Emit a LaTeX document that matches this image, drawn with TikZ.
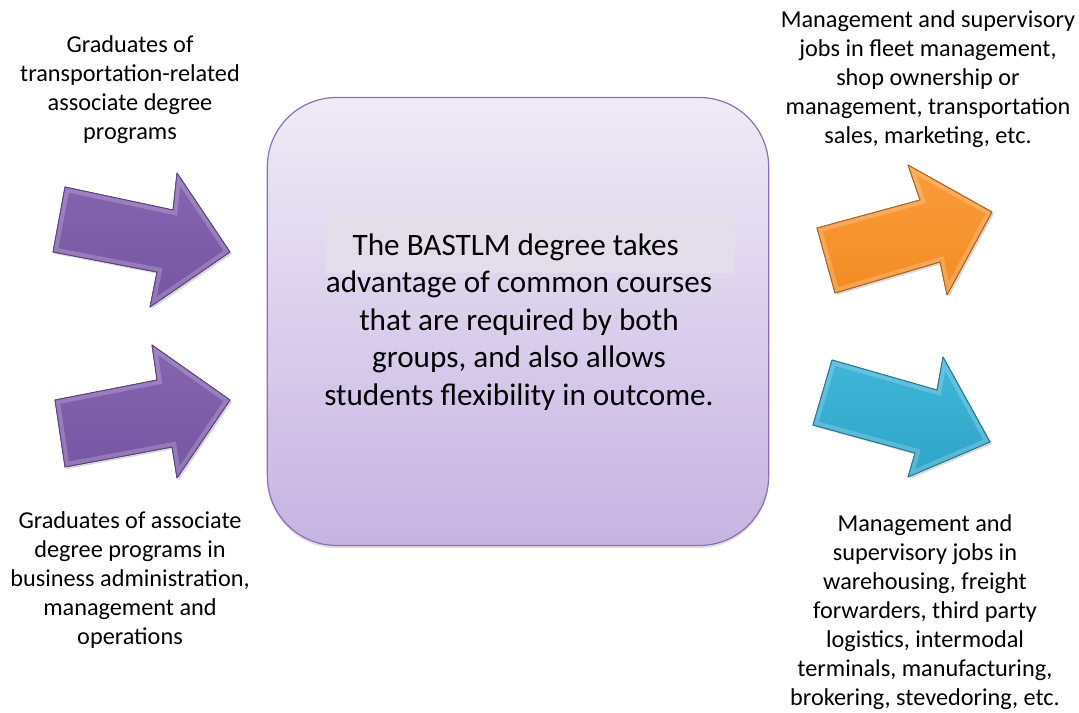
\documentclass[tikz,border=0pt]{standalone}
\usepackage{fontspec}
\setmainfont{Carlito}
\usetikzlibrary{shadows}
\definecolor{boxtop}{HTML}{EFEBF6}
\definecolor{boxbot}{HTML}{C6B3E2}
\definecolor{boxline}{HTML}{8A70B2}
\definecolor{hilite}{HTML}{E4DEEA}
\definecolor{purpA}{HTML}{8565B0}
\definecolor{purpB}{HTML}{7656A2}
\definecolor{purpE}{HTML}{5A4185}
\definecolor{orA}{HTML}{FA9C3C}
\definecolor{orB}{HTML}{F28C22}
\definecolor{orE}{HTML}{B0621A}
\definecolor{blA}{HTML}{40B6D8}
\definecolor{blB}{HTML}{2EA4C8}
\definecolor{blE}{HTML}{1E7A96}
\tikzset{
  sidetext/.style={align=center, font=\fontsize{18.2}{21.75}\selectfont, inner sep=0pt},
  maintext/.style={align=center, font=\fontsize{23.4}{28.1}\selectfont, inner sep=0pt},
  blockarrow/.style n args={3}{top color=#1, bottom color=#2, draw=#3, line width=0.6pt, line join=round,
     drop shadow={shadow xshift=1.5pt, shadow yshift=-1.5pt, opacity=0.25, fill=black!60}},
  bevel/.style={draw=white, draw opacity=0.2, line width=7pt, line join=miter},
}
% a bevelled block arrow through seven corner points
\newcommand{\bevelarrow}[4]{%
  \filldraw[blockarrow={#1}{#2}{#3}] #4 -- cycle;
  \begin{scope}
    \clip #4 -- cycle;
    \draw[bevel] #4 -- cycle;
  \end{scope}
  \draw[draw=#3, line width=0.6pt, line join=round] #4 -- cycle;
}
\begin{document}
\begin{tikzpicture}[x=0.75pt,y=-0.75pt]
\useasboundingbox (0,0) rectangle (1079,713);

% central rounded box
\node (core) [draw=boxline, line width=0.9pt, top color=boxtop, bottom color=boxbot,
  rounded corners=52pt, minimum width=376pt, minimum height=336pt, inner sep=0pt,
  drop shadow={shadow xshift=0pt, shadow yshift=-2pt, opacity=0.25, fill=black!50}]
  at (518,321.5) {};
\fill[hilite] (326,214) rectangle (735,273);
\node (coretext) [maintext] at (519,322)
  {The BASTLM degree takes\hspace*{5pt}\\advantage of common courses\\that are required by both\\groups, and also allows\\students flexibility in outcome.};

% incoming arrows
\bevelarrow{purpA}{purpB}{purpE}
  {(65,187) -- (173,210) -- (177,173) -- (230,252) -- (150,307) -- (157,272) -- (53,252)}
\bevelarrow{purpA}{purpB}{purpE}
  {(55,400) -- (157,380) -- (152,345) -- (230,400) -- (177,478) -- (172,447) -- (65,467)}

% outgoing arrows
\bevelarrow{orA}{orB}{orE}
  {(817,228) -- (920,200) -- (908,165) -- (992,212) -- (947,295) -- (940,262) -- (835,293)}
\bevelarrow{blA}{blB}{blE}
  {(832,360) -- (937,390) -- (943,357) -- (990,442) -- (908,477) -- (915,453) -- (813,425)}

% labels
\node (inA) [sidetext] at (130,90)
  {Graduates of\\transportation-related\\associate degree\\programs};
\node (inB) [sidetext] at (130,580)
  {Graduates of associate\\degree programs in\\business administration,\\management and\\operations};
\node (outA) [sidetext] at (928,79)
  {Management and supervisory\\jobs in fleet management,\\shop ownership or\\management, transportation\\sales, marketing, etc.};
\node (outB) [sidetext] at (925,612)
  {Management and\\supervisory jobs in\\warehousing, freight\\forwarders, third party\\logistics, intermodal\\terminals, manufacturing,\\brokering, stevedoring, etc.};
\end{tikzpicture}
\end{document}
